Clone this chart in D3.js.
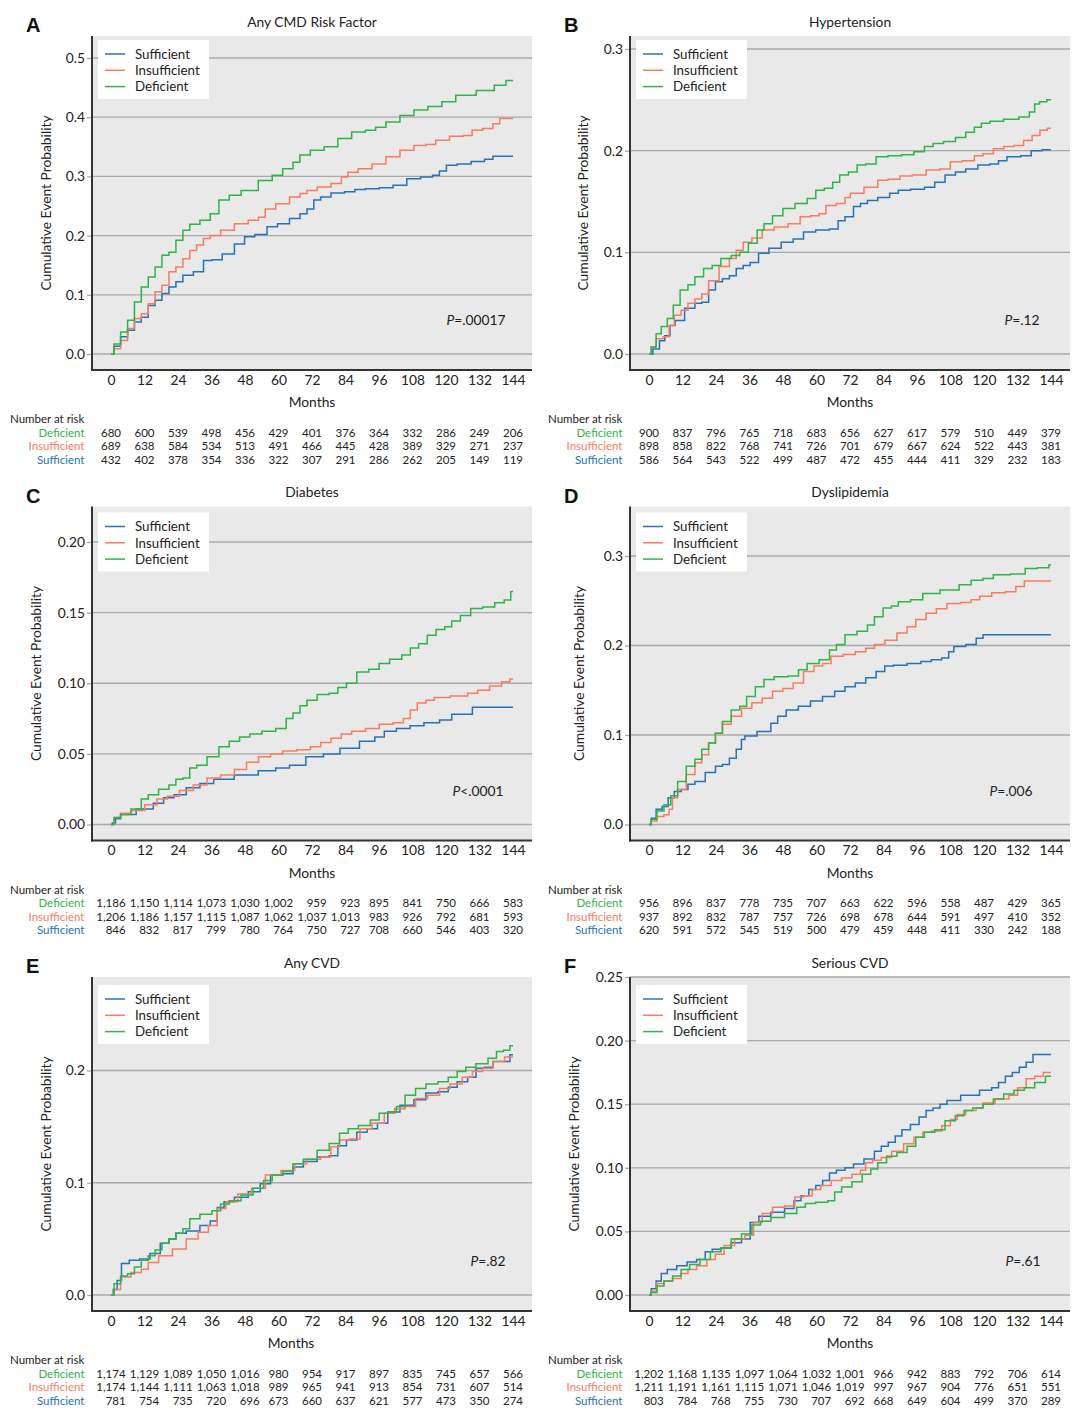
<!DOCTYPE html>
<html><head><meta charset="utf-8">
<script src="https://cdn.jsdelivr.net/npm/d3@7/dist/d3.min.js"></script>
<style>
html,body{margin:0;padding:0;background:#fff;}
svg{display:block;font-family:Lato,"Open Sans",sans-serif;}
</style></head>
<body>
<svg id="chart" width="1080" height="1410"></svg>
<script>
// ---------- data ----------
const groups = ["Sufficient", "Insufficient", "Deficient"];
const riskOrder = ["Deficient", "Insufficient", "Sufficient"];
const monthTicks = [0, 12, 24, 36, 48, 60, 72, 84, 96, 108, 120, 132, 144];
const panelLetters = ["A", "B", "C", "D", "E", "F"];
const panelTitles = ["Any CMD Risk Factor", "Hypertension", "Diabetes", "Dyslipidemia", "Any CVD", "Serious CVD"];
const pSymbols = ["=", "=", "<", "=", "=", "="];
const pValues = [".00017", ".12", ".0001", ".006", ".82", ".61"];
const yTicksA = [0, 0.1, 0.2, 0.3, 0.4, 0.5];
const yTicksB = [0, 0.1, 0.2, 0.3];
const yTicksC = [0, 0.05, 0.10, 0.15, 0.20];
const yTicksD = [0, 0.1, 0.2, 0.3];
const yTicksE = [0, 0.1, 0.2];
const yTicksF = [0, 0.05, 0.10, 0.15, 0.20, 0.25];
const yTickDigits = [1, 1, 2, 1, 1, 2];

// Panel A - Any CMD Risk Factor
const curveA_Sufficient = [[0,0],[2.2,0.013],[4.7,0.029],[7.2,0.04],[9.6,0.054],[12.1,0.062],[14.6,0.082],[17,0.091],[19.5,0.102],[22,0.113],[24.5,0.122],[27,0.133],[32,0.139],[34.3,0.158],[38,0.159],[41.7,0.169],[46.7,0.186],[49,0.198],[54,0.202],[57.8,0.215],[61.5,0.22],[66.4,0.229],[69,0.237],[71.4,0.245],[73.9,0.26],[76.3,0.265],[81.3,0.272],[86,0.274],[88.7,0.278],[93.6,0.279],[98.6,0.281],[103.5,0.285],[108.4,0.296],[113.4,0.299],[117,0.302],[118.3,0.309],[122,0.319],[126,0.321],[132,0.325],[135.6,0.329],[138,0.334],[144,0.334]];
const curveA_Insufficient = [[0,0],[2.2,0.009],[4.7,0.023],[7.2,0.043],[9.6,0.06],[12.1,0.068],[14.6,0.085],[17,0.105],[19.5,0.116],[22,0.139],[24.5,0.147],[27,0.161],[29.4,0.175],[31.9,0.184],[34.3,0.195],[36.8,0.2],[41.7,0.209],[46.7,0.22],[51.6,0.226],[54,0.231],[56.5,0.245],[61.5,0.254],[66.4,0.265],[69,0.271],[71.4,0.276],[76.3,0.282],[81.3,0.288],[83.7,0.299],[86,0.307],[91,0.313],[96,0.321],[101,0.333],[106,0.344],[111,0.352],[114.6,0.354],[118,0.361],[124.5,0.368],[128,0.369],[130.7,0.378],[135.6,0.381],[138,0.389],[140.5,0.398],[144,0.398]];
const curveA_Deficient = [[0,0],[2.2,0.017],[4.7,0.037],[7.2,0.057],[9.6,0.088],[12.1,0.113],[14.6,0.13],[17,0.147],[19.5,0.167],[22,0.172],[24.5,0.192],[27,0.209],[29.4,0.219],[34.3,0.226],[36.8,0.237],[40.5,0.26],[44.2,0.268],[49,0.276],[56.5,0.293],[59,0.302],[64,0.313],[66.4,0.324],[68.9,0.336],[73.9,0.344],[78.8,0.35],[83.7,0.364],[88.7,0.375],[93.6,0.378],[96,0.383],[101,0.392],[106,0.403],[111,0.412],[116,0.418],[121,0.426],[126,0.437],[135.6,0.445],[139,0.454],[144,0.462]];
const riskA_Deficient = ["680","600","539","498","456","429","401","376","364","332","286","249","206"];
const riskA_Insufficient = ["689","638","584","534","513","491","466","445","428","389","329","271","237"];
const riskA_Sufficient = ["432","402","378","354","336","322","307","291","286","262","205","149","119"];

// Panel B - Hypertension
const curveB_Sufficient = [[0,0],[2.8,0.005],[4.7,0.013],[6.6,0.018],[8.4,0.028],[10.3,0.033],[15.2,0.045],[17.7,0.05],[20.1,0.051],[22.6,0.063],[25,0.071],[27.6,0.074],[30,0.077],[32.5,0.084],[35,0.087],[37.5,0.09],[41,0.099],[44.9,0.104],[49.8,0.11],[53.5,0.113],[57.2,0.12],[62.2,0.122],[67.1,0.123],[68.4,0.131],[72,0.135],[74.5,0.145],[77,0.148],[79.5,0.151],[84.4,0.154],[88,0.158],[90.6,0.161],[96.8,0.162],[100.5,0.164],[104.2,0.169],[107.9,0.176],[111.6,0.179],[115.3,0.182],[120.3,0.186],[124,0.187],[126.4,0.19],[130,0.194],[136.3,0.195],[137.5,0.2],[144,0.201]];
const curveB_Insufficient = [[0,0],[1.6,0.007],[3.5,0.015],[6.6,0.017],[7.8,0.028],[10.3,0.038],[12.7,0.043],[15.2,0.05],[17.7,0.054],[20.1,0.059],[22.6,0.072],[27.6,0.086],[30,0.094],[32.5,0.102],[35,0.11],[38.7,0.114],[42.4,0.122],[47.3,0.125],[52.3,0.128],[56,0.135],[59.7,0.136],[62.2,0.138],[64.6,0.146],[69.6,0.148],[70.9,0.154],[73.3,0.158],[80.7,0.164],[83.2,0.171],[88,0.172],[91.8,0.175],[96.8,0.176],[101.7,0.181],[106.7,0.182],[109.2,0.189],[115.3,0.19],[117.8,0.195],[121.5,0.197],[125.2,0.202],[128.9,0.204],[132.6,0.205],[135.7,0.21],[138.8,0.215],[141.3,0.22],[144,0.222]];
const curveB_Deficient = [[0,0],[1.6,0.007],[3.5,0.02],[5.3,0.027],[7.8,0.035],[9.6,0.048],[12.7,0.063],[15.2,0.068],[17.7,0.076],[21.4,0.084],[23.9,0.087],[27.6,0.094],[31.3,0.097],[33.7,0.1],[37.5,0.109],[40,0.122],[42.4,0.128],[46.1,0.136],[49.8,0.143],[54.8,0.148],[58.5,0.153],[61,0.161],[64.6,0.163],[67,0.169],[69.6,0.176],[73.3,0.179],[75.8,0.186],[79.5,0.187],[83.2,0.194],[88,0.195],[93,0.196],[96.8,0.199],[100.5,0.204],[103,0.207],[108,0.209],[111.6,0.213],[115.3,0.218],[117.8,0.223],[120.3,0.227],[124,0.229],[130,0.231],[135,0.233],[137.5,0.238],[138.8,0.246],[141,0.248],[144,0.25]];
const riskB_Deficient = ["900","837","796","765","718","683","656","627","617","579","510","449","379"];
const riskB_Insufficient = ["898","858","822","768","741","726","701","679","667","624","522","443","381"];
const riskB_Sufficient = ["586","564","543","522","499","487","472","455","444","411","329","232","183"];

// Panel C - Diabetes
const curveC_Sufficient = [[0,0],[1,0.001],[2.2,0.004],[4.7,0.007],[13.3,0.011],[17,0.015],[20.7,0.019],[24.5,0.021],[29.4,0.026],[34.3,0.029],[39.3,0.032],[49,0.035],[56.5,0.038],[61.5,0.04],[66.4,0.042],[73.2,0.048],[79,0.05],[85,0.054],[93,0.059],[96,0.062],[99.8,0.066],[104.7,0.068],[109.6,0.07],[114.6,0.072],[120.8,0.074],[123.3,0.078],[135.6,0.083],[144,0.083]];
const curveC_Insufficient = [[0,0],[2.2,0.005],[4.7,0.008],[9.6,0.01],[14.6,0.014],[18.3,0.018],[22,0.02],[27,0.024],[32,0.028],[36.8,0.033],[41.7,0.035],[46.7,0.039],[50.4,0.044],[55.3,0.048],[59,0.05],[64,0.052],[69,0.053],[73.9,0.055],[76.3,0.058],[81.3,0.061],[83.7,0.064],[88.7,0.066],[93.6,0.068],[98.6,0.071],[103.5,0.072],[106,0.075],[108.4,0.081],[111,0.086],[114.6,0.088],[117,0.09],[126,0.091],[129.5,0.093],[133.2,0.095],[138,0.098],[141.8,0.101],[144,0.103]];
const curveC_Deficient = [[0,0],[2.2,0.005],[4.7,0.007],[9.6,0.011],[12.1,0.018],[14.6,0.021],[19.5,0.025],[22,0.028],[24.5,0.032],[27,0.033],[29.4,0.04],[32,0.042],[36.8,0.048],[40.5,0.055],[44.2,0.059],[47.9,0.062],[51.6,0.064],[56.5,0.066],[61.5,0.068],[64,0.075],[66.4,0.079],[69,0.084],[71.4,0.088],[76.3,0.092],[80,0.093],[82.5,0.097],[86.2,0.1],[89.9,0.108],[94.8,0.11],[97.3,0.114],[102.3,0.117],[106,0.12],[108.4,0.125],[112,0.128],[114.6,0.134],[118.3,0.138],[120.8,0.14],[123.3,0.144],[127,0.148],[130.7,0.153],[135.6,0.154],[139.3,0.157],[142.4,0.159],[144,0.165]];
const riskC_Deficient = ["1,186","1,150","1,114","1,073","1,030","1,002","959","923","895","841","750","666","583"];
const riskC_Insufficient = ["1,206","1,186","1,157","1,115","1,087","1,062","1,037","1,013","983","926","792","681","593"];
const riskC_Sufficient = ["846","832","817","799","780","764","750","727","708","660","546","403","320"];

// Panel D - Dyslipidemia
const curveD_Sufficient = [[0,0],[1.6,0.007],[3.5,0.017],[5.9,0.02],[7.8,0.03],[10.3,0.037],[12.7,0.039],[15.2,0.045],[17.7,0.048],[22.6,0.058],[25,0.065],[27.6,0.067],[30,0.074],[32.5,0.084],[33.7,0.095],[35,0.099],[42.4,0.104],[44.9,0.113],[47.3,0.121],[51,0.128],[56,0.132],[59.7,0.138],[64.6,0.143],[68.4,0.149],[72,0.154],[75.8,0.158],[79.5,0.164],[83.2,0.171],[85.7,0.177],[89.4,0.178],[95.5,0.18],[99.3,0.182],[103,0.184],[106.7,0.186],[108,0.193],[110.4,0.199],[116.6,0.201],[117.8,0.208],[121.5,0.212],[144,0.212]];
const curveD_Insufficient = [[0,0],[1.6,0.004],[4.1,0.009],[6.6,0.011],[7.8,0.017],[9,0.03],[11.5,0.039],[15.2,0.056],[17.7,0.069],[20.1,0.078],[22.6,0.091],[25,0.102],[27.6,0.112],[31.3,0.121],[35,0.13],[38.7,0.136],[42.4,0.141],[46.1,0.149],[49.8,0.152],[53.5,0.158],[57.2,0.171],[61,0.177],[63.4,0.18],[67,0.188],[72,0.19],[75.8,0.193],[79.5,0.197],[82,0.201],[87,0.206],[90.6,0.214],[94.3,0.221],[96.8,0.229],[101.7,0.236],[104.2,0.241],[109.2,0.247],[114.1,0.248],[116.6,0.251],[120.3,0.255],[125.2,0.259],[130.2,0.26],[132.6,0.266],[136.3,0.272],[144,0.272]];
const curveD_Deficient = [[0,0],[1.6,0.006],[4.1,0.015],[6.6,0.022],[9,0.032],[11.5,0.048],[15.2,0.065],[17.7,0.073],[20.1,0.084],[22.6,0.091],[25,0.102],[27.6,0.115],[31.3,0.128],[33.7,0.132],[36.2,0.143],[40,0.154],[42.4,0.162],[47.3,0.165],[52.3,0.166],[54.8,0.173],[58.5,0.18],[63.4,0.184],[65.9,0.195],[68.4,0.201],[72,0.212],[77,0.216],[79.5,0.223],[82,0.232],[85.7,0.242],[88,0.244],[90.6,0.249],[96.8,0.251],[99.3,0.258],[109.2,0.262],[113,0.268],[117.8,0.273],[121.5,0.275],[125.2,0.279],[133.8,0.28],[135.7,0.286],[142.5,0.287],[144,0.29]];
const riskD_Deficient = ["956","896","837","778","735","707","663","622","596","558","487","429","365"];
const riskD_Insufficient = ["937","892","832","787","757","726","698","678","644","591","497","410","352"];
const riskD_Sufficient = ["620","591","572","545","519","500","479","459","448","411","330","242","188"];

// Panel E - Any CVD
const curveE_Sufficient = [[0,0],[1.6,0.005],[2.8,0.013],[4.7,0.028],[8.4,0.031],[12.1,0.032],[15.8,0.037],[19.5,0.046],[22,0.05],[24.5,0.055],[29.4,0.057],[34.3,0.062],[36.8,0.066],[39.3,0.078],[41.7,0.083],[46.7,0.087],[51.6,0.092],[55.3,0.099],[59,0.107],[64,0.108],[66.4,0.114],[71.4,0.119],[76.3,0.123],[80,0.124],[82.5,0.133],[86.2,0.138],[89.9,0.145],[93.6,0.148],[97.3,0.153],[101,0.163],[106,0.169],[111,0.174],[114.6,0.18],[119.6,0.181],[122,0.185],[126,0.19],[129.5,0.194],[132,0.202],[135.6,0.203],[138,0.208],[141.8,0.208],[144,0.214]];
const curveE_Insufficient = [[0,0],[2.2,0.005],[4.7,0.016],[9.6,0.02],[12.1,0.023],[14.6,0.029],[19.5,0.035],[24.5,0.041],[29.4,0.05],[33,0.056],[36.8,0.062],[39.3,0.077],[43,0.083],[47.9,0.09],[52.8,0.095],[57.8,0.107],[64,0.111],[67.6,0.117],[72.6,0.121],[77.5,0.123],[80,0.132],[83.7,0.138],[87.4,0.139],[91,0.148],[96,0.153],[99.8,0.162],[103.5,0.166],[107.2,0.168],[111,0.175],[115.8,0.178],[119.6,0.184],[123.3,0.188],[128.2,0.194],[130.7,0.199],[135.6,0.202],[138,0.208],[144,0.212]];
const curveE_Deficient = [[0,0],[2.2,0.01],[4.7,0.017],[7.2,0.019],[9.6,0.025],[12.1,0.031],[14.6,0.035],[17,0.04],[19.5,0.046],[22,0.05],[24.5,0.055],[27,0.059],[29.4,0.068],[34.3,0.072],[38,0.075],[40.5,0.081],[44.2,0.084],[49,0.089],[52.8,0.095],[56.5,0.102],[59,0.107],[64,0.11],[66.4,0.117],[71.4,0.121],[76.3,0.129],[80,0.135],[83.7,0.144],[86.2,0.148],[91,0.151],[94.8,0.156],[97.3,0.162],[101,0.163],[103.5,0.168],[107.2,0.178],[111,0.184],[114.6,0.188],[119.6,0.19],[122,0.194],[126,0.199],[128.2,0.203],[133.2,0.206],[136.9,0.211],[139.3,0.217],[141.8,0.218],[144,0.222]];
const riskE_Deficient = ["1,174","1,129","1,089","1,050","1,016","980","954","917","897","835","745","657","566"];
const riskE_Insufficient = ["1,174","1,144","1,111","1,063","1,018","989","965","941","913","854","731","607","514"];
const riskE_Sufficient = ["781","754","735","720","696","673","660","637","621","577","473","350","274"];

// Panel F - Serious CVD
const curveF_Sufficient = [[0,0],[1.6,0.005],[3.5,0.011],[5.3,0.017],[7.8,0.02],[12.1,0.023],[15.2,0.026],[18.9,0.028],[21.4,0.034],[23.9,0.036],[27.6,0.037],[31.3,0.041],[35,0.044],[37.5,0.057],[41.2,0.062],[46.1,0.065],[51,0.068],[52.9,0.074],[56,0.078],[58.5,0.083],[61,0.086],[63.4,0.09],[65.9,0.096],[68.4,0.098],[72,0.1],[74.5,0.103],[79.5,0.107],[82,0.113],[84.4,0.117],[87,0.12],[89.4,0.125],[91.8,0.13],[95.5,0.134],[98,0.14],[100.5,0.145],[103,0.147],[105.5,0.15],[108,0.153],[115.3,0.157],[121.5,0.161],[124,0.163],[126.4,0.167],[128.9,0.172],[131.4,0.175],[133.9,0.179],[136.3,0.183],[138.8,0.189],[144,0.189]];
const curveF_Insufficient = [[0,0],[1.6,0.003],[4.1,0.009],[6.6,0.011],[10.3,0.013],[12.7,0.017],[15.2,0.02],[18.9,0.023],[22.6,0.028],[25,0.032],[28.8,0.039],[32.5,0.044],[36.2,0.047],[38.7,0.057],[42.4,0.064],[46.1,0.069],[51,0.07],[53.5,0.077],[57.2,0.078],[59.7,0.083],[63.4,0.086],[67.1,0.09],[70.9,0.092],[74.5,0.095],[77,0.098],[78.2,0.104],[82,0.106],[84.4,0.108],[89.4,0.113],[93,0.119],[96.8,0.124],[99.3,0.128],[103,0.129],[106.7,0.133],[109.2,0.138],[111.6,0.142],[115.3,0.145],[119,0.147],[120.3,0.151],[127.7,0.154],[130.2,0.157],[133.9,0.163],[136.3,0.17],[140,0.172],[142.5,0.175],[144,0.175]];
const curveF_Deficient = [[0,0],[1.6,0.002],[4.1,0.007],[6.6,0.011],[10.3,0.015],[12.7,0.02],[16.4,0.024],[20.1,0.028],[23.9,0.034],[27.6,0.037],[31.3,0.044],[35,0.048],[38.7,0.055],[41.2,0.058],[46.1,0.061],[51,0.064],[54.8,0.069],[57.2,0.072],[62.2,0.073],[65.9,0.074],[67.1,0.081],[70.9,0.085],[74.5,0.089],[78.2,0.095],[80.7,0.099],[83.2,0.104],[87,0.109],[90.6,0.112],[94.3,0.117],[96.8,0.124],[100.5,0.128],[104.2,0.13],[107.9,0.137],[111.6,0.141],[114.1,0.145],[117.8,0.147],[121.5,0.15],[125.2,0.154],[128.9,0.158],[132.6,0.161],[136.3,0.163],[140,0.167],[144,0.172]];
const riskF_Deficient = ["1,202","1,168","1,135","1,097","1,064","1,032","1,001","966","942","883","792","706","614"];
const riskF_Insufficient = ["1,211","1,191","1,161","1,115","1,071","1,046","1,019","997","967","904","776","651","551"];
const riskF_Sufficient = ["803","784","768","755","730","707","692","668","649","604","499","370","289"];

// ---------- assemble ----------
const panels = [
  {curves:{Sufficient:curveA_Sufficient,Insufficient:curveA_Insufficient,Deficient:curveA_Deficient}, risk:{Deficient:riskA_Deficient,Insufficient:riskA_Insufficient,Sufficient:riskA_Sufficient}, yTicks:yTicksA},
  {curves:{Sufficient:curveB_Sufficient,Insufficient:curveB_Insufficient,Deficient:curveB_Deficient}, risk:{Deficient:riskB_Deficient,Insufficient:riskB_Insufficient,Sufficient:riskB_Sufficient}, yTicks:yTicksB},
  {curves:{Sufficient:curveC_Sufficient,Insufficient:curveC_Insufficient,Deficient:curveC_Deficient}, risk:{Deficient:riskC_Deficient,Insufficient:riskC_Insufficient,Sufficient:riskC_Sufficient}, yTicks:yTicksC},
  {curves:{Sufficient:curveD_Sufficient,Insufficient:curveD_Insufficient,Deficient:curveD_Deficient}, risk:{Deficient:riskD_Deficient,Insufficient:riskD_Insufficient,Sufficient:riskD_Sufficient}, yTicks:yTicksD},
  {curves:{Sufficient:curveE_Sufficient,Insufficient:curveE_Insufficient,Deficient:curveE_Deficient}, risk:{Deficient:riskE_Deficient,Insufficient:riskE_Insufficient,Sufficient:riskE_Sufficient}, yTicks:yTicksE},
  {curves:{Sufficient:curveF_Sufficient,Insufficient:curveF_Insufficient,Deficient:curveF_Deficient}, risk:{Deficient:riskF_Deficient,Insufficient:riskF_Insufficient,Sufficient:riskF_Sufficient}, yTicks:yTicksF}
];

// ---------- layout ----------
const colors = {Sufficient:"#2673b8", Insufficient:"#fa7c5e", Deficient:"#30b447"};
const colLeft = [92, 630];
const rowTop = [36, 506.5, 977];
const plotW = 440, plotH = 334;
const zeroOff = 318;
const topTickOff = [22, 13, 35.5, 49.5, 93.5, 0];
const legendDy = [4, 4, 6, 6, 8, 8];
const pCenter = [384, 392, 386, 381, 396, 393];
const ylabX = [-41, -42, -51, -46, -41, -51];
const monthsDx = [0, 0, 0, 0, -21, 0];
const FS = 13.8;

const svg = d3.select("#chart");

panels.forEach((p, i) => {
  const col = i % 2, row = Math.floor(i / 2);
  const L = colLeft[col], T = rowTop[row], B = T + plotH, R = L + plotW;
  const g = svg.append("g");
  const x = d3.scaleLinear().domain([0, 144]).range([L + 19, L + 421]);
  const yMax = p.yTicks[p.yTicks.length - 1];
  const y = d3.scaleLinear().domain([0, yMax]).range([T + zeroOff, T + topTickOff[i]]);

  g.append("rect").attr("x", L).attr("y", T).attr("width", plotW).attr("height", plotH).attr("fill", "#e9e9e9");

  const fmt = d3.format("." + yTickDigits[i] + "f");
  g.append("g").attr("transform", `translate(${L},0)`)
    .call(d3.axisLeft(y).tickValues(p.yTicks).tickFormat(fmt).tickSize(5).tickPadding(2))
    .call(s => s.select(".domain").remove())
    .call(s => s.selectAll(".tick line").attr("stroke", "#a9a9a9").attr("stroke-width", 1.3))
    .call(s => s.selectAll(".tick text").attr("font-size", FS).attr("fill", "#222").attr("font-family", "Lato, sans-serif"));
  g.append("g").selectAll("line").data(p.yTicks).join("line")
    .attr("x1", L).attr("x2", R).attr("y1", d => y(d)).attr("y2", d => y(d))
    .attr("stroke", "#a9a9a9").attr("stroke-width", 1.3);

  const line = d3.line().x(d => x(d[0])).y(d => y(d[1])).curve(d3.curveStep);
  groups.forEach(gr => {
    g.append("path").datum(p.curves[gr]).attr("d", line)
      .attr("fill", "none").attr("stroke", colors[gr]).attr("stroke-width", 1.5);
  });

  g.append("line").attr("x1", L).attr("x2", L).attr("y1", T).attr("y2", B + 1).attr("stroke", "#333").attr("stroke-width", 2);
  g.append("line").attr("x1", L - 1).attr("x2", R).attr("y1", B).attr("y2", B).attr("stroke", "#333").attr("stroke-width", 2);

  g.append("g").attr("transform", `translate(0,${B})`)
    .call(d3.axisBottom(x).tickValues(monthTicks).tickFormat(d3.format("d")).tickSize(0).tickPadding(5))
    .call(s => s.select(".domain").remove())
    .call(s => s.selectAll(".tick text").attr("font-size", FS).attr("fill", "#222").attr("font-family", "Lato, sans-serif"));

  g.append("text").attr("x", (L + R) / 2 + monthsDx[i]).attr("y", B + 37).attr("text-anchor", "middle")
    .attr("font-size", FS).attr("fill", "#222").text("Months");
  g.append("text").attr("transform", `translate(${L + ylabX[i]},${(T + B) / 2}) rotate(-90)`)
    .attr("text-anchor", "middle").attr("font-size", FS).attr("fill", "#222").text("Cumulative Event Probability");

  g.append("text").attr("x", (L + R) / 2).attr("y", T - 9.5).attr("text-anchor", "middle")
    .attr("font-size", FS).attr("fill", "#222").text(panelTitles[i]);
  g.append("text").attr("x", L - 66).attr("y", T - 4).attr("font-size", 20).attr("font-weight", "bold")
    .attr("font-family", "'Liberation Sans', Arial, sans-serif").attr("fill", "#111").text(panelLetters[i]);

  const lg = g.append("g").attr("transform", `translate(${L + 6},${T + legendDy[i]})`);
  lg.append("rect").attr("width", 111).attr("height", 59).attr("fill", "#fff");
  groups.forEach((gr, k) => {
    const yy = 14 + k * 16.3;
    lg.append("line").attr("x1", 7).attr("x2", 27).attr("y1", yy).attr("y2", yy).attr("stroke", colors[gr]).attr("stroke-width", 1.5);
    lg.append("text").attr("x", 37).attr("y", yy + 4.7).attr("font-size", 13.3).attr("fill", "#222").text(gr);
  });

  const pt = g.append("text").attr("x", L + pCenter[i]).attr("y", T + 289).attr("text-anchor", "middle")
    .attr("font-size", FS).attr("fill", "#222");
  pt.append("tspan").attr("font-style", "italic").text("P");
  pt.append("tspan").text(pSymbols[i] + pValues[i]);

  g.append("text").attr("x", L - 82).attr("y", B + 53).attr("font-size", 11.5).attr("fill", "#222").text("Number at risk");
  riskOrder.forEach((gr, r) => {
    const yy = B + 66.5 + r * 13.6;
    g.append("text").attr("x", L - 7.5).attr("y", yy).attr("text-anchor", "end")
      .attr("font-size", 11.5).attr("fill", colors[gr]).text(gr);
  });
  monthTicks.forEach((m, c) => {
    const cells = riskOrder.map((gr, r) => g.append("text").attr("y", B + 66.5 + r * 13.6)
      .attr("font-size", 11.5).attr("fill", "#222").attr("text-anchor", "end").text(p.risk[gr][c]));
    const w = d3.max(cells, t => t.node().getComputedTextLength());
    cells.forEach(t => t.attr("x", x(m) + w / 2));
  });
});
</script>
</body></html>
